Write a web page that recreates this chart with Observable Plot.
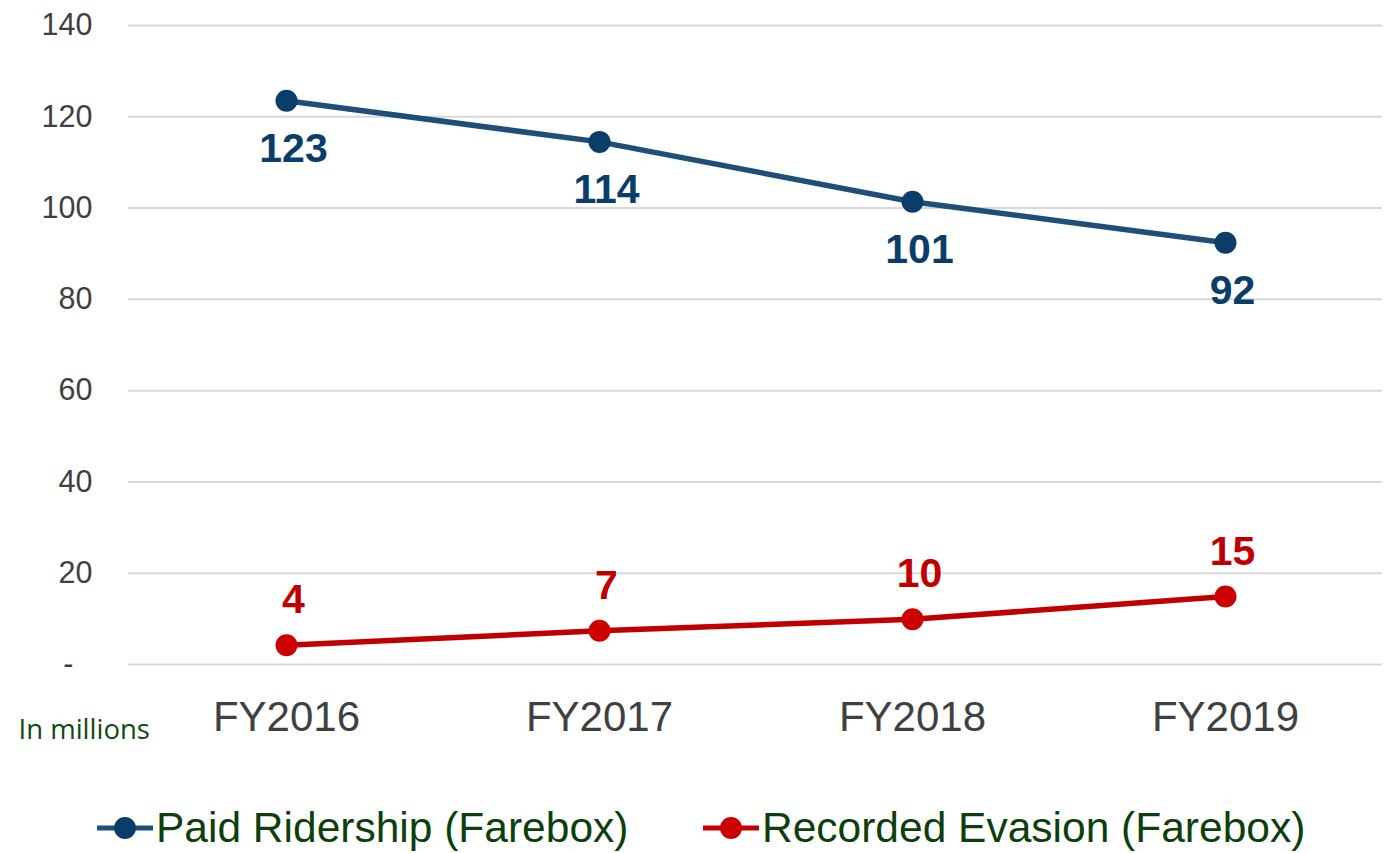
<!DOCTYPE html>
<html>
<head>
<meta charset="utf-8">
<script src="https://cdn.jsdelivr.net/npm/d3@7"></script>
<script src="https://cdn.jsdelivr.net/npm/@observablehq/plot@0.6"></script>
<style>
  html, body { margin: 0; padding: 0; background: #fff; }
  #wrap { position: relative; width: 1384px; height: 853px; overflow: hidden; }
  #legend { position: relative; width: 1384px; height: 78px; font-family: "Liberation Sans", Arial, sans-serif; }
  .item { position: absolute; top: 0; height: 78px; display: flex; align-items: center; }
  .item span { font-size: 42.5px; color: #0d3f0d; margin-left: 3px; line-height: 1; position: relative; top: 14px; }
  .item svg { position: relative; top: 14px; }
</style>
</head>
<body>
<div id="wrap"></div>
<script>
const years = ["FY2016", "FY2017", "FY2018", "FY2019"];
const paid = [123.5, 114.5, 101.4, 92.4];
const paidLabels = ["123", "114", "101", "92"];
const evasion = [4.2, 7.4, 9.9, 14.9];
const evasionLabels = ["4", "7", "10", "15"];
const yTicks = [0, 20, 40, 60, 80, 100, 120, 140];
const seriesNames = ["Paid Ridership (Farebox)", "Recorded Evasion (Farebox)"];
const unitNote = "In millions";

const paidRows = years.map((y, i) => ({year: y, value: paid[i], label: paidLabels[i]}));
const evasionRows = years.map((y, i) => ({year: y, value: evasion[i], label: evasionLabels[i]}));

const blueLine = "#1f4e79", blueDot = "#0b3d6b";
const redLine = "#c00000", redDot = "#cc0000";

const chart = Plot.plot({
  width: 1384,
  height: 775,
  marginLeft: 128,
  marginRight: 2,
  marginTop: 25,
  marginBottom: 111,
  x: {type: "point", domain: years, padding: 0.5},
  y: {domain: [0, 140]},
  style: {fontFamily: "'Liberation Sans', Arial, sans-serif", background: "#fff"},
  marks: [
    Plot.gridY(yTicks, {stroke: "#d9d9d9", strokeOpacity: 1, strokeWidth: 2}),
    Plot.axisY(yTicks.filter(d => d !== 0), {tickSize: 0, tickPadding: 36, fontSize: 30.5, fill: "#404040", label: null}),
    Plot.axisY([0], {tickSize: 0, tickPadding: 55, fontSize: 30.5, fill: "#404040", tickFormat: () => "-", label: null}),
    Plot.axisX(years, {tickSize: 0, tickPadding: 37, fontSize: 42, fill: "#404040", label: null}),
    Plot.line(paidRows, {x: "year", y: "value", stroke: blueLine, strokeWidth: 5.5}),
    Plot.dot(paidRows, {x: "year", y: "value", r: 11, fill: blueDot, stroke: "none"}),
    Plot.text(paidRows, {x: "year", y: "value", text: "label", dx: 7, dy: 48, fontSize: 41, fontWeight: "bold", fill: blueDot}),
    Plot.line(evasionRows, {x: "year", y: "value", stroke: redLine, strokeWidth: 5.5}),
    Plot.dot(evasionRows, {x: "year", y: "value", r: 11, fill: redDot, stroke: "none"}),
    Plot.text(evasionRows, {x: "year", y: "value", text: "label", dx: 7, dy: -45, fontSize: 41, fontWeight: "bold", fill: redLine}),
    Plot.text([unitNote], {frameAnchor: "bottom-left", text: d => d, dx: -110, dy: 66, textAnchor: "start", lineAnchor: "middle", fontSize: 27.5, fill: "#0e4a14", fontFamily: "'Open Sans', sans-serif"})
  ]
});

const wrap = document.getElementById("wrap");
wrap.appendChild(chart);

const legend = document.createElement("div");
legend.id = "legend";
const legendItems = [
  {name: seriesNames[0], line: blueLine, dot: blueDot, left: 97},
  {name: seriesNames[1], line: redLine, dot: redDot, left: 703}
];
for (const it of legendItems) {
  const d = document.createElement("div");
  d.className = "item";
  d.style.left = it.left + "px";
  d.innerHTML = `<svg width="56" height="26"><line x1="0" y1="13" x2="56" y2="13" stroke="${it.line}" stroke-width="5" stroke-linecap="round"/><circle cx="28" cy="13" r="11" fill="${it.dot}"/></svg><span>${it.name}</span>`;
  legend.appendChild(d);
}
wrap.appendChild(legend);
</script>
</body>
</html>
